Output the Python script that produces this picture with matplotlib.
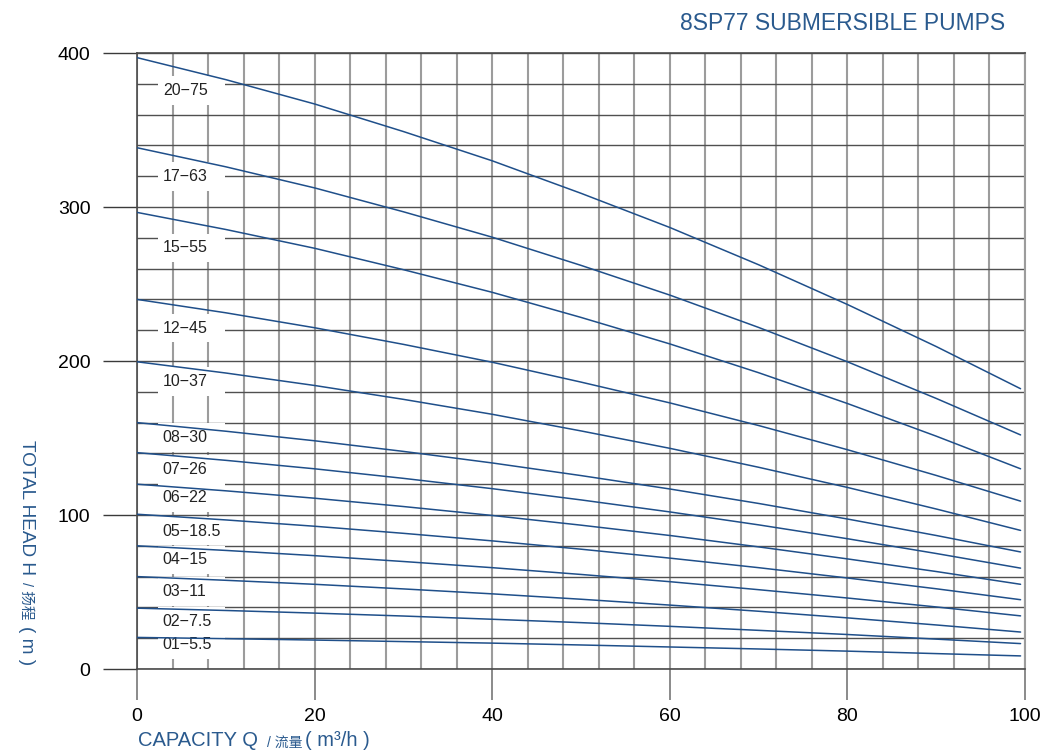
import matplotlib.pyplot as plt
from matplotlib.patches import Rectangle
from matplotlib.ticker import MultipleLocator

plt.rcParams['font.family'] = ['Liberation Sans', 'Noto Sans CJK SC', 'DejaVu Sans']

# capacity points (m3/h) where the head was read
flow = [0, 10, 20, 30, 40, 50, 60, 70, 80, 90, 99.5]

models = ['20\u221275', '17\u221263', '15\u221255', '12\u221245', '10\u221237', '08\u221230',
          '07\u221226', '06\u221222', '05\u221218.5', '04\u221215', '03\u221211', '02\u22127.5',
          '01\u22125.5']

head_20_75 = [397, 382.7, 366.9, 349, 330, 308.9, 286.7, 262.5, 236.7, 209.4, 182]
head_17_63 = [338.5, 326.1, 312.4, 296.9, 280.4, 262.1, 242.8, 221.8, 199.5, 175.7, 152]
head_15_55 = [296.5, 285.4, 273.2, 259.3, 244.6, 228.3, 211.1, 192.4, 172.4, 151.2, 130]
head_12_45 = [240, 231.3, 221.6, 210.8, 199.2, 186.3, 172.8, 158.1, 142.4, 125.7, 109]
head_10_37 = [199.5, 192.2, 184.1, 175.1, 165.4, 154.6, 143.3, 131, 117.9, 103.9, 90]
head_08_30 = [160, 154.4, 148.2, 141.3, 133.8, 125.6, 116.9, 107.5, 97.4, 86.7, 76]
head_07_26 = [140.5, 135.5, 130, 123.8, 117.1, 109.8, 102, 93.6, 84.6, 75, 65.5]
head_06_22 = [120, 115.7, 110.9, 105.5, 99.7, 93.4, 86.7, 79.3, 71.5, 63.3, 55]
head_05_18 = [100.5, 96.8, 92.7, 88.1, 83.2, 77.8, 72, 65.8, 59.1, 52.1, 45]
head_04_15 = [80, 77, 73.6, 69.8, 65.8, 61.4, 56.7, 51.5, 46.1, 40.3, 34.5]
head_03_11 = [60, 57.6, 55, 52, 48.8, 45.3, 41.5, 37.5, 33.2, 28.6, 24]
head_02_07 = [39.5, 38, 36.3, 34.4, 32.3, 30.1, 27.7, 25.1, 22.4, 19.4, 16.5]
head_01_05 = [20.5, 19.7, 18.8, 17.8, 16.8, 15.6, 14.3, 13, 11.6, 10, 8.5]

heads = [head_20_75, head_17_63, head_15_55, head_12_45, head_10_37, head_08_30,
         head_07_26, head_06_22, head_05_18, head_04_15, head_03_11, head_02_07,
         head_01_05]

# where each model name sits (head value of the label centre)
label_q = 2.9
label_h = [375.5, 320, 273.4, 221.4, 186.6, 150.4, 129.7, 111.2, 89.6, 70.8, 50.2, 30.7, 15.6]

blue = '#2a5a8e'
curve_blue = '#1f4f8a'

fig = plt.figure(figsize=(10.45, 7.54), dpi=100)
ax = fig.add_axes([137 / 1045, 1 - 669 / 754, 888 / 1045, 616 / 754])

ax.set_xlim(0, 100)
ax.set_ylim(0, 400)

ax.xaxis.set_major_locator(MultipleLocator(20))
ax.xaxis.set_minor_locator(MultipleLocator(4))
ax.yaxis.set_major_locator(MultipleLocator(100))
ax.yaxis.set_minor_locator(MultipleLocator(20))

ax.grid(which='both', axis='x', color='#9c9c9c', lw=1.5, zorder=1)
ax.grid(which='both', axis='y', color='#505050', lw=1.0, zorder=1)
ax.set_axisbelow(True)

ax.tick_params(axis='x', which='major', length=22, width=1.2, color='#777777',
               pad=6, labelsize=14)
ax.tick_params(axis='y', which='major', length=24.5, width=1.0, color='#3a3a3a',
               pad=9, labelsize=14)
ax.tick_params(which='minor', length=0)

for side in ['left', 'bottom', 'top']:
    ax.spines[side].set_color('#4a4a4a')
    ax.spines[side].set_linewidth(1.2)
ax.spines['right'].set_color('#9c9c9c')
ax.spines['right'].set_linewidth(1.5)

# white boxes behind the model names hide the grid
for name, h in zip(models, label_h):
    ax.add_patch(Rectangle((label_q - 0.5, h - 9.3), 7.5, 18.6, fc='white',
                           ec='none', zorder=2))
    ax.text(label_q, h, name, fontsize=11.5, color='#222222', ha='left',
            va='center', zorder=3)

for h in heads:
    ax.plot(flow, h, color=curve_blue, lw=1.1, zorder=4, solid_capstyle='round')

fig.text(1005 / 1045, 1 - 23 / 754, '8SP77 SUBMERSIBLE PUMPS', color=blue,
         fontsize=16.5, ha='right', va='center')

# x axis title, pieces of different sizes on one baseline
base_y = 1 - 746.5 / 754
fig.text(138 / 1045, base_y, 'CAPACITY Q', color=blue, fontsize=14.5, va='baseline')
fig.text(267 / 1045, base_y, '/ 流量', color=blue, fontsize=10, va='baseline')
fig.text(305 / 1045, base_y, '( m\u00b3/h )', color=blue, fontsize=14.5,
         va='baseline')

# y axis title, read top to bottom, all pieces on one baseline
base_x = 22 / 1045
ylab = dict(color=blue, rotation=270, rotation_mode='anchor', ha='left',
            va='baseline')
fig.text(base_x, 1 - 440 / 754, 'TOTAL HEAD H', fontsize=13.7, **ylab)
fig.text(base_x, 1 - 582 / 754, '/ 扬程', fontsize=10.5, **ylab)
fig.text(base_x, 1 - 626 / 754, '( m )', fontsize=13.7, **ylab)

fig.savefig('out.png', dpi=100)
